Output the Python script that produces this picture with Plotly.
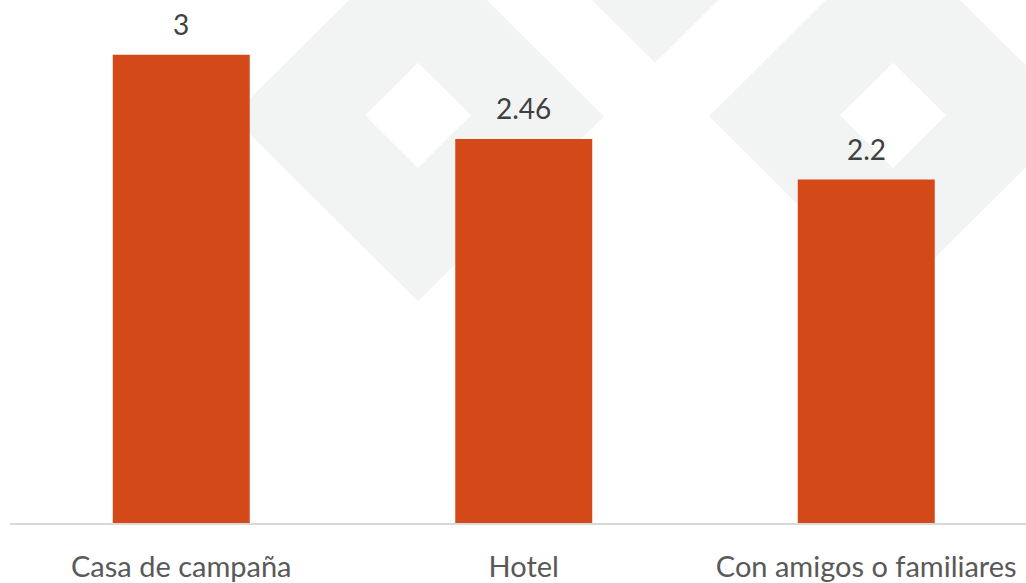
import plotly.graph_objects as go

categories = ["Casa de campaña", "Hotel", "Con amigos o familiares"]
values = [3, 2.46, 2.2]
value_labels = ["3", "2.46", "2.2"]

W, H = 1026, 583
ML, MR, MT = 10, 0, 0
BASE = 526
MB = H - BASE
PW, PH = W - ML - MR, BASE - MT

def px(x):
    return (x - ML) / PW

def py(y):
    return 1 - (y - MT) / PH

def diamond(cx, cy, r):
    pts = [(cx, cy - r), (cx + r, cy), (cx, cy + r), (cx - r, cy)]
    return "M " + " L ".join(f"{px(a):.5f},{py(b):.5f}" for a, b in pts) + " Z"

wm = "#F2F3F3"
shapes = [
    dict(type="path", xref="paper", yref="paper", layer="below",
         path=diamond(418, 117, 186) + " " + diamond(418, 116, 53),
         fillcolor=wm, fillrule="evenodd", line=dict(width=0)),
    dict(type="path", xref="paper", yref="paper", layer="below",
         path=diamond(655, -80, 143),
         fillcolor=wm, line=dict(width=0)),
    dict(type="path", xref="paper", yref="paper", layer="below",
         path=diamond(893, 117, 184) + " " + diamond(893, 116, 53),
         fillcolor=wm, fillrule="evenodd", line=dict(width=0)),
]

fig = go.Figure(go.Bar(
    x=categories, y=values, marker=dict(color="#D34A18", line=dict(width=0)),
    width=0.4, hoverinfo="skip",
))

annotations = [
    dict(x=c, y=v, text=t, xref="x", yref="y", showarrow=False,
         yanchor="bottom", yshift=13, borderpad=0,
         font=dict(family="Lato", size=28, color="#404040"))
    for c, v, t in zip(categories, values, value_labels)
]

fig.update_layout(
    width=W, height=H,
    margin=dict(l=ML, r=MR, t=MT, b=MB, pad=0),
    paper_bgcolor="white", plot_bgcolor="rgba(0,0,0,0)",
    showlegend=False,
    shapes=shapes,
    annotations=annotations,
    xaxis=dict(type="category", range=[-0.5, -0.5 + PW / 342.5],
               showline=True, linecolor="#D9D9D9", linewidth=2,
               showgrid=False, ticks="", ticklabelstandoff=17,
               tickfont=dict(family="Lato", size=29, color="#595959")),
    yaxis=dict(range=[0, PH / 157.0], visible=False, showgrid=False),
)

fig.write_html("out.html",
               config={"displayModeBar": False, "staticPlot": True},
               post_script="document.body.style.margin='0';document.body.style.overflow='hidden';")
